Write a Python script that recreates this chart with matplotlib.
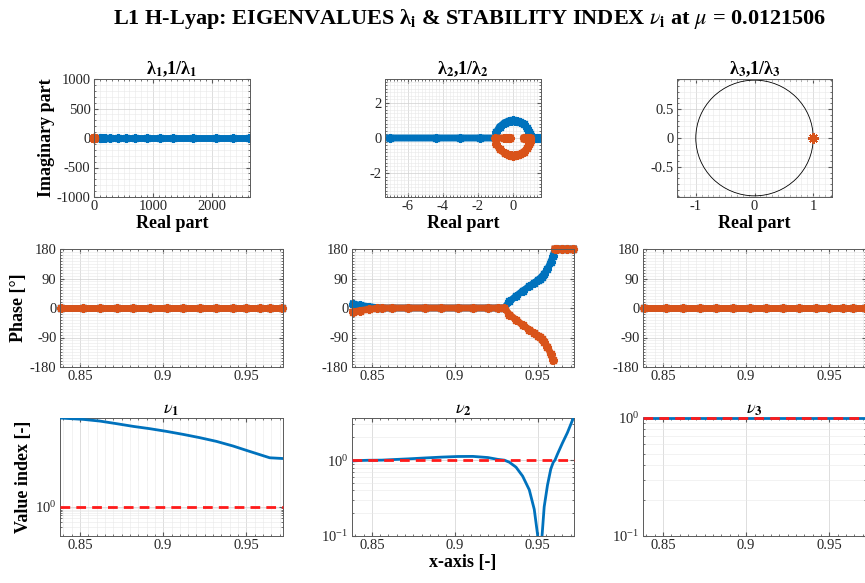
import numpy as np
import matplotlib
matplotlib.use("Agg")
import matplotlib.pyplot as plt
from matplotlib.ticker import MultipleLocator, FixedLocator, NullFormatter
from matplotlib.patches import Circle

plt.rcParams["font.family"] = ["Liberation Serif", "DejaVu Serif"]
plt.rcParams["mathtext.fontset"] = "stix"
plt.rcParams["axes.unicode_minus"] = False

BLUE = "#0072BD"
ORANGE = "#D95319"
AST = (8, 2, 0)   # asterisk marker like MATLAB '*'

# ---------------------------------------------------------------------------
# DATA
# ---------------------------------------------------------------------------

# family parameter and first eigenvalue (real, positive)
x1 = [0.8386, 0.852, 0.862, 0.872, 0.882, 0.892, 0.902, 0.912, 0.922, 0.932,
      0.942, 0.950, 0.958, 0.964, 0.9716]
lam1_vals = [2620, 2360, 2057, 1668, 1340, 1112, 895, 702, 538, 399,
             274, 193, 137, 106, 100]

# second eigenvalue (complex)
x2 = [0.8386, 0.843, 0.848, 0.853, 0.856, 0.862, 0.872, 0.882, 0.892, 0.902,
      0.911, 0.920, 0.926, 0.930, 0.933, 0.937, 0.941, 0.945, 0.948, 0.950,
      0.9512, 0.9525, 0.954, 0.956, 0.958, 0.9595, 0.9605, 0.962, 0.965,
      0.968, 0.9716]
lam2_re = [0.978, 0.990, 0.997, 1.0, 1.05, 1.20, 1.33, 1.45, 1.55, 1.62,
           1.63, 1.50, 1.25, 1.0, 0.940, 0.809, 0.616, 0.407, 0.225, 0.105,
           0.017, -0.087, -0.242, -0.469, -0.766, -0.940, -1.0, -1.86, -3.03,
           -4.37, -7.04]
lam2_im = [0.208, 0.139, 0.070, 0.020, 0, 0, 0, 0, 0, 0,
           0, 0, 0, 0, 0.342, 0.588, 0.788, 0.914, 0.974, 0.995,
           1.0, 0.996, 0.970, 0.883, 0.643, 0.342, 0, 0, 0,
           0, 0]

# third eigenvalue (trivial, = 1)
x3 = x1
lam3_vals = [1.0, 1.0, 1.0, 1.0, 1.0, 1.0, 1.0, 1.0, 1.0, 1.0, 1.0, 1.0, 1.0, 1.0, 1.0]

lams = [np.array(lam1_vals, dtype=complex),
        np.array(lam2_re) + 1j * np.array(lam2_im),
        np.array(lam3_vals, dtype=complex)]
xs = [np.array(x1), np.array(x2), np.array(x3)]


def phase(z):
    ph = np.degrees(np.angle(z))
    ph[np.isclose(np.abs(ph), 180)] = 180
    return ph


def with_breaks(x, y):
    # put a NaN where the phase wraps so the line is not drawn across
    xo, yo = [x[0]], [y[0]]
    for i in range(1, len(x)):
        if abs(y[i] - y[i - 1]) > 90:
            xo.append(np.nan)
            yo.append(np.nan)
        xo.append(x[i])
        yo.append(y[i])
    return np.array(xo), np.array(yo)


# ---------------------------------------------------------------------------
# FIGURE
# ---------------------------------------------------------------------------

W, H = 865, 583
fig = plt.figure(figsize=(W / 100, H / 100), dpi=100)


def px_axes(x0, y0, x1_, y1_):
    return fig.add_axes([x0 / W, 1 - y1_ / H, (x1_ - x0) / W, (y1_ - y0) / H])


def style(ax, xminor=True):
    for s in ax.spines.values():
        s.set_color("#5a5a5a")
        s.set_linewidth(0.7)
    ax.tick_params(which="both", direction="in", top=True, right=True,
                   colors="#5a5a5a", labelcolor="#262626", labelsize=10.5)
    ax.tick_params(which="major", length=3, pad=2.5)
    ax.tick_params(which="minor", length=1.5)
    ax.grid(True, which="major", color="#d0d0d0", lw=0.5)
    ax.grid(True, which="minor", color="#e8e8e8", lw=0.4)
    if not xminor:
        ax.grid(False, which="minor", axis="x")
    ax.set_axisbelow(True)


LBL = dict(fontsize=13, fontweight="bold")
TTL = dict(fontsize=13, fontweight="bold")
MK = dict(marker=AST, lw=5, ms=6.5, mew=1.5)

top_boxes = [(94, 79, 250, 197), (385, 79, 541, 197), (677, 79, 832, 197)]
cols = [(60, 283), (352, 574), (643, 866)]

# --- top row: complex plane ---
top_lim = [((0, 2640), (-1000, 1000)), ((-7.3, 1.6), (-3.37, 3.37)),
           ((-1.32, 1.32), (-1.02, 1.02))]
top_xt = [[0, 1000, 2000], [-6, -4, -2, 0], [-1, 0, 1]]
top_yt = [[-1000, -500, 0, 500, 1000], [-2, 0, 2], [-0.5, 0, 0.5]]
top_minor = [100, 0.2, 0.1]

for k in range(3):
    ax = px_axes(*top_boxes[k])
    style(ax)
    lam = lams[k]
    inv = 1 / lam
    if k == 2:
        ax.add_patch(Circle((0, 0), 1, fill=False, color="k", lw=0.6))
        ax.plot(lam.real, lam.imag, ls="none", marker=AST, ms=7, mew=1.0, color=BLUE)
        ax.plot(inv.real, inv.imag, ls="none", marker=AST, ms=7, mew=1.0, color=ORANGE)
    else:
        ax.plot(lam.real, lam.imag, "-", color=BLUE, **MK)
        ax.plot(inv.real, inv.imag, "-", color=ORANGE, clip_on=(k != 0), **MK)
    ax.set_xlim(*top_lim[k][0])
    ax.set_ylim(*top_lim[k][1])
    ax.set_xticks(top_xt[k])
    ax.set_xticklabels([f"{v:g}" for v in top_xt[k]])
    ax.set_yticks(top_yt[k])
    ax.set_yticklabels([f"{v:g}" for v in top_yt[k]])
    ax.xaxis.set_minor_locator(MultipleLocator(top_minor[k]))
    ax.yaxis.set_minor_locator(MultipleLocator(top_minor[k]))
    ax.set_xlabel("Real part", labelpad=1, **LBL)
    ax.set_title(f"λ$_\\mathbf{{{k + 1}}}$,1/λ$_\\mathbf{{{k + 1}}}$", pad=3, **TTL)
    if k == 0:
        ax.set_ylabel("Imaginary part", labelpad=1, **LBL)

XLIM = (0.838, 0.972)

# --- middle row: phase ---
for k in range(3):
    ax = px_axes(cols[k][0], 249, cols[k][1], 367)
    style(ax)
    lam = lams[k]
    for z, c in ((lam, BLUE), (1 / lam, ORANGE)):
        xb, yb = with_breaks(xs[k], phase(z))
        ax.plot(xb, yb, "-", color=c, clip_on=False, **MK)
    ax.set_xlim(*XLIM)
    ax.set_ylim(-180, 180)
    ax.set_xticks([0.85, 0.9, 0.95])
    ax.set_xticklabels(["0.85", "0.9", "0.95"])
    ax.set_yticks([-180, -90, 0, 90, 180])
    ax.xaxis.set_minor_locator(MultipleLocator(0.005))
    ax.yaxis.set_minor_locator(MultipleLocator(9))
    if k == 0:
        ax.set_ylabel("Phase [°]", labelpad=2, **LBL)

# --- bottom row: stability index ---
nu_ylim = [(0.095, 1320), (0.1, 3.6), (0.1, 1.0)]
nu_major = [[1], [0.1, 1], [0.1, 1]]
nu_minor = [[0.2, 0.3, 0.4, 0.5, 0.6, 0.7, 0.8, 0.9],
            [0.2, 0.3, 0.4, 0.5, 0.6, 0.7, 0.8, 0.9, 2, 3],
            [0.2, 0.3, 0.4, 0.5, 0.6, 0.7, 0.8, 0.9]]

for k in range(3):
    ax = px_axes(cols[k][0], 418, cols[k][1], 536)
    ax.set_yscale("log")
    style(ax, xminor=(k == 0))
    lam = lams[k]
    nu = np.abs(lam + 1 / lam) / 2
    ax.plot(xs[k], nu, "-", lw=2, color=BLUE, clip_on=(k != 2), zorder=3)
    ax.axhline(1.0, color="#ff1a1a", lw=2, ls=(0, (3.5, 2.2)), clip_on=False, zorder=4)
    ax.set_xlim(*XLIM)
    ax.set_ylim(*nu_ylim[k])
    ax.set_xticks([0.85, 0.9, 0.95])
    ax.set_xticklabels(["0.85", "0.9", "0.95"])
    ax.xaxis.set_minor_locator(MultipleLocator(0.005))
    ax.yaxis.set_major_locator(FixedLocator(nu_major[k]))
    ax.yaxis.set_minor_locator(FixedLocator(nu_minor[k]))
    ax.yaxis.set_minor_formatter(NullFormatter())
    ax.set_title(f"$\\nu_\\mathbf{{{k + 1}}}$", pad=3, **TTL)
    if k == 0:
        ax.set_ylabel("Value index [-]", labelpad=2, **LBL)
    if k == 1:
        ax.set_xlabel("x-axis [-]", labelpad=1, **LBL)

fig.text(470 / W, 1 - 19 / H,
         "L1 H-Lyap: EIGENVALUES λ$_\\mathbf{i}$ & STABILITY INDEX $\\nu_\\mathbf{i}$ at $\\mu$ = 0.0121506",
         ha="center", va="center", fontsize=16, fontweight="bold")

fig.savefig("out.png", dpi=100, facecolor="white")
